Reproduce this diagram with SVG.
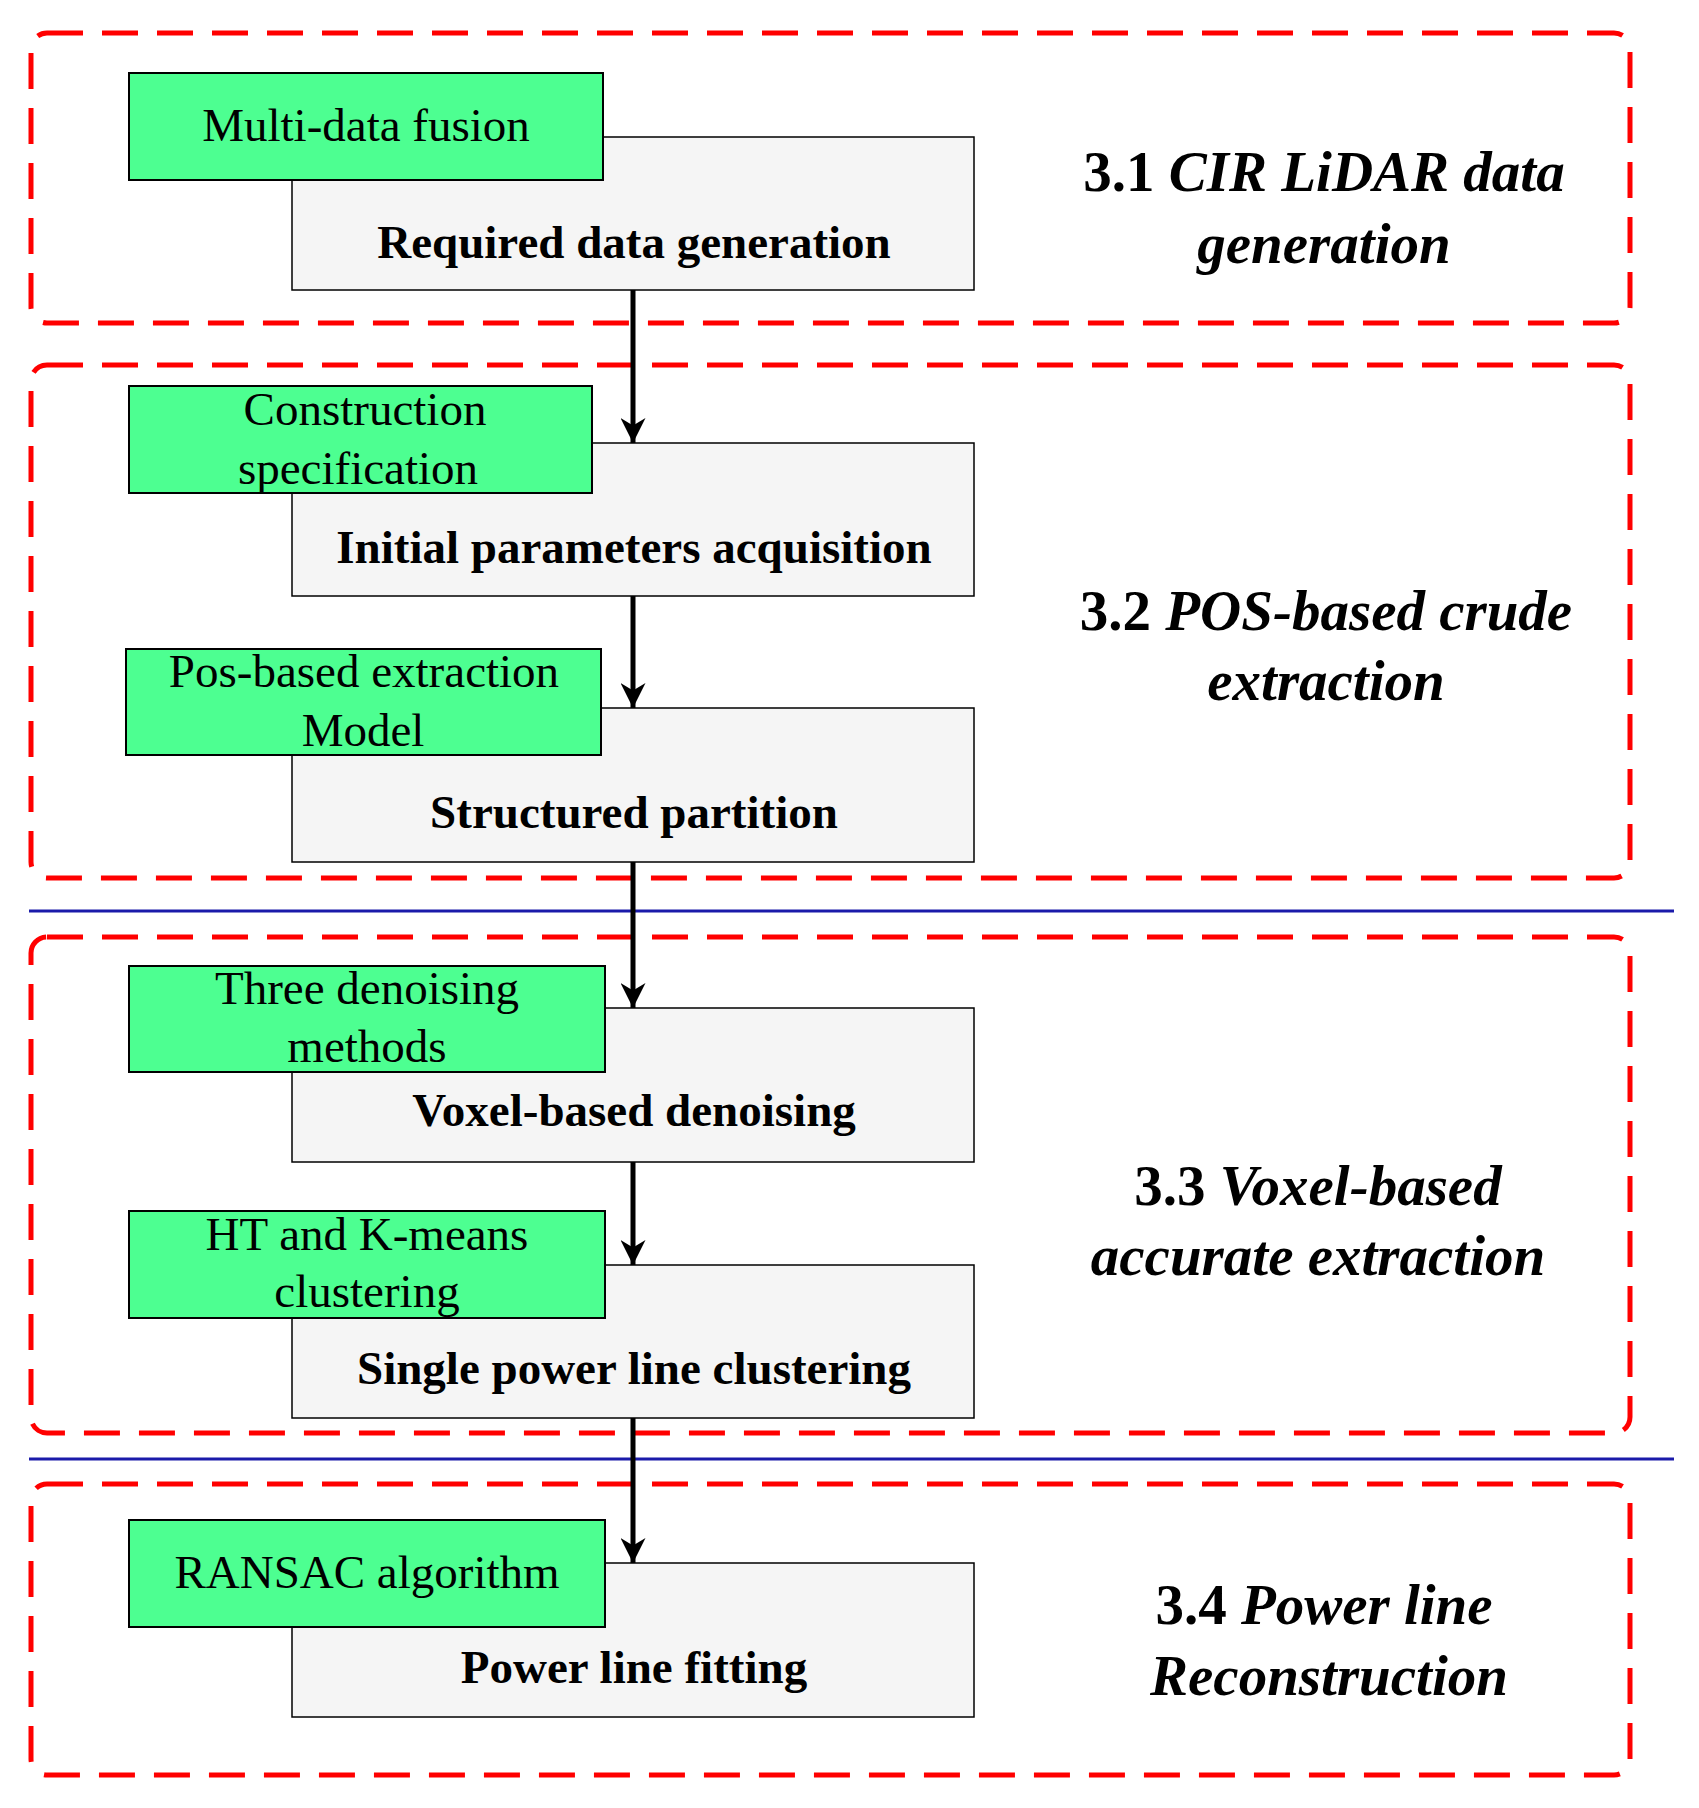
<svg xmlns="http://www.w3.org/2000/svg" width="1699" height="1808" viewBox="0 0 1699 1808">
<defs>
<marker id="ah" viewBox="0 0 10 10" refX="10" refY="5" markerWidth="5" markerHeight="5" markerUnits="strokeWidth" orient="auto"><path d="M0,0 L10,5 L0,10 L3,5 z" fill="#000"/></marker>
<style>
.grp{fill:none;stroke:#ff0000;stroke-width:5;stroke-dasharray:36 19}
.blue{stroke:#1a1aaa;stroke-width:3}
.g{fill:#4dff91;stroke:#000;stroke-width:2}
.b{fill:#f5f5f5;stroke:#000;stroke-width:1.5}
.gt{font-family:"Liberation Serif",serif;font-size:47px;text-anchor:middle;fill:#000}
.bt{font-family:"Liberation Serif",serif;font-size:47px;font-weight:bold;text-anchor:middle;fill:#000}
.st{font-family:"Liberation Serif",serif;font-size:57px;font-weight:bold;text-anchor:middle;fill:#000}
.c{stroke:#000;stroke-width:5;fill:none;marker-end:url(#ah)}
</style>
</defs>
<rect width="1699" height="1808" fill="#fff"/>
<g id="groups">
<rect class="grp" x="31" y="33" width="1599" height="290" rx="16"/>
<rect class="grp" x="31" y="365" width="1599" height="513" rx="16"/>
<rect class="grp" x="31" y="937" width="1599" height="496" rx="16"/>
<rect class="grp" x="31" y="1484" width="1599" height="291" rx="16"/>
<line class="blue" x1="29" y1="911" x2="1674" y2="911"/>
<line class="blue" x1="29" y1="1459" x2="1674" y2="1459"/>
</g>
<g id="connectors">
<line class="c" x1="633" y1="290" x2="633" y2="443"/>
<line class="c" x1="633" y1="596" x2="633" y2="708"/>
<line class="c" x1="633" y1="862" x2="633" y2="1008"/>
<line class="c" x1="633" y1="1162" x2="633" y2="1265"/>
<line class="c" x1="633" y1="1418" x2="633" y2="1563"/>
</g>
<g id="n1"><rect class="b" x="292" y="137" width="682" height="153"/><text class="bt" x="634" y="258">Required data generation</text></g>
<g id="n1g"><rect class="g" x="129" y="73" width="474" height="107"/><text class="gt" x="366" y="141">Multi-data fusion</text></g>
<g id="n2"><rect class="b" x="292" y="443" width="682" height="153"/><text class="bt" x="634" y="563">Initial parameters acquisition</text></g>
<g id="n2g"><rect class="g" x="129" y="386" width="463" height="107"/><text class="gt" x="365" y="425">Construction</text><text class="gt" x="358" y="484">specification</text></g>
<g id="n3"><rect class="b" x="292" y="708" width="682" height="154"/><text class="bt" x="634" y="828">Structured partition</text></g>
<g id="n3g"><rect class="g" x="126" y="649" width="475" height="106"/><text class="gt" x="364" y="687">Pos-based extraction</text><text class="gt" x="363" y="746">Model</text></g>
<g id="n4"><rect class="b" x="292" y="1008" width="682" height="154"/><text class="bt" x="634" y="1126">Voxel-based denoising</text></g>
<g id="n4g"><rect class="g" x="129" y="966" width="476" height="106"/><text class="gt" x="367" y="1004">Three denoising</text><text class="gt" x="367" y="1062">methods</text></g>
<g id="n5"><rect class="b" x="292" y="1265" width="682" height="153"/><text class="bt" x="634" y="1384">Single power line clustering</text></g>
<g id="n5g"><rect class="g" x="129" y="1211" width="476" height="107"/><text class="gt" x="367" y="1250">HT and K-means</text><text class="gt" x="367" y="1307">clustering</text></g>
<g id="n6"><rect class="b" x="292" y="1563" width="682" height="154"/><text class="bt" x="634" y="1683">Power line fitting</text></g>
<g id="n6g"><rect class="g" x="129" y="1520" width="476" height="107"/><text class="gt" x="367" y="1588">RANSAC algorithm</text></g>
<g id="s1"><text class="st" x="1324" y="191">3.1 <tspan font-style="italic">CIR LiDAR data</tspan></text><text class="st" x="1324" y="263" font-style="italic">generation</text></g>
<g id="s2"><text class="st" x="1326" y="630">3.2 <tspan font-style="italic">POS-based crude</tspan></text><text class="st" x="1326" y="700" font-style="italic">extraction</text></g>
<g id="s3"><text class="st" x="1318" y="1205">3.3 <tspan font-style="italic">Voxel-based</tspan></text><text class="st" x="1318" y="1275" font-style="italic">accurate extraction</text></g>
<g id="s4"><text class="st" x="1324" y="1624">3.4 <tspan font-style="italic">Power line</tspan></text><text class="st" x="1329" y="1695" font-style="italic">Reconstruction</text></g>
</svg>
